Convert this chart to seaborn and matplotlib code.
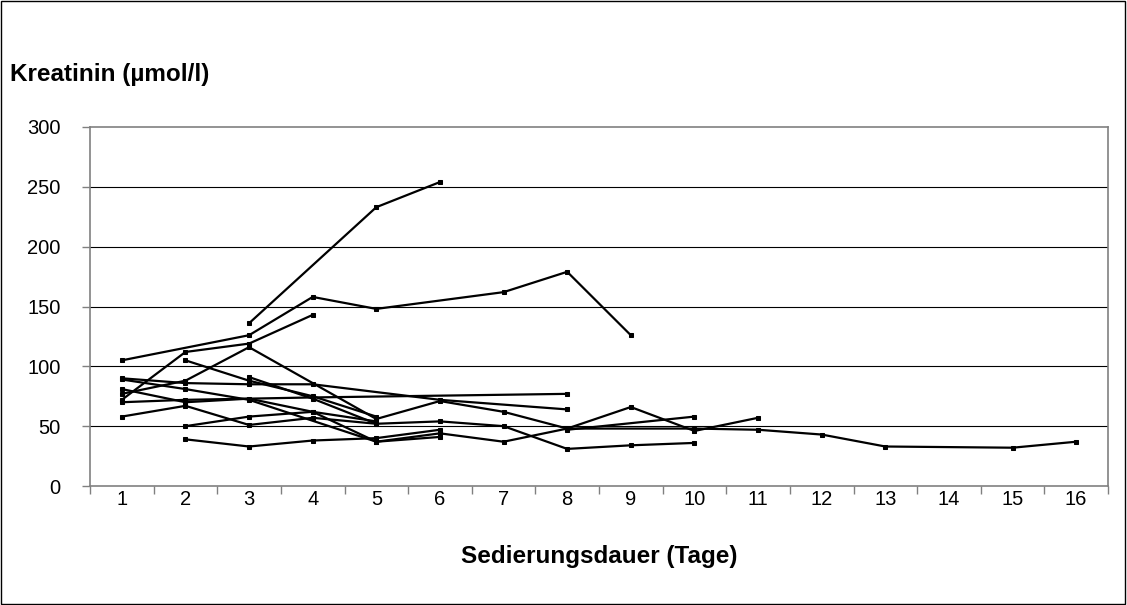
import numpy as np
import pandas as pd
import seaborn as sns
import matplotlib.pyplot as plt
from matplotlib.patches import Rectangle

# Kreatinin-Verlauf je Patient (Tag -> Wert)
p01_days = [3, 5, 6]
p01_vals = [136, 233, 254]
p02_days = [1, 3, 4, 5, 7, 8, 9]
p02_vals = [105, 126, 158, 148, 162, 179, 126]
p03_days = [1, 2, 3, 4]
p03_vals = [72, 112, 119, 143]
p04_days = [1, 2, 3, 5, 6, 7, 8, 9, 10, 11]
p04_vals = [77, 88, 116, 56, 71, 62, 48, 66, 46, 57]
p05_days = [1, 2, 4, 8]
p05_vals = [70, 72, 74, 77]
p06_days = [1, 2, 3, 4, 6, 8]
p06_vals = [90, 86, 85, 85, 72, 64]
p07_days = [1, 2, 3, 4, 5, 6, 7, 8, 10, 11, 12, 13, 15, 16]
p07_vals = [81, 70, 73, 62, 37, 44, 37, 48, 48, 47, 43, 33, 32, 37]
p08_days = [2, 3, 4, 5]
p08_vals = [105, 88, 75, 58]
p09_days = [3, 4, 5]
p09_vals = [91, 73, 52]
p10_days = [1, 2, 3, 4, 5, 6, 7, 8, 9, 10]
p10_vals = [58, 67, 51, 57, 52, 54, 50, 31, 34, 36]
p11_days = [2, 3, 4, 5, 6]
p11_vals = [39, 33, 38, 40, 47]
p12_days = [2, 3, 4, 5]
p12_vals = [50, 58, 62, 54]
p13_days = [1, 2, 3, 5, 6]
p13_vals = [89, 81, 72, 37, 41]
p14_days = [8, 10]
p14_vals = [47, 58]

x_ticks = list(range(1, 17))
y_ticks = [0, 50, 100, 150, 200, 250, 300]

patients = [
    (p01_days, p01_vals), (p02_days, p02_vals), (p03_days, p03_vals),
    (p04_days, p04_vals), (p05_days, p05_vals), (p06_days, p06_vals),
    (p07_days, p07_vals), (p08_days, p08_vals), (p09_days, p09_vals),
    (p10_days, p10_vals), (p11_days, p11_vals), (p12_days, p12_vals),
    (p13_days, p13_vals), (p14_days, p14_vals),
]
rows = []
for i, (d, v) in enumerate(patients):
    for day, val in zip(d, v):
        rows.append({'patient': i, 'tag': day, 'kreatinin': val})
df = pd.DataFrame(rows)

sns.set_style('white')
plt.rcParams['font.family'] = ['Liberation Sans', 'DejaVu Sans']
plt.rcParams['text.color'] = 'black'
plt.rcParams['xtick.color'] = 'black'
plt.rcParams['ytick.color'] = 'black'

fig = plt.figure(figsize=(11.27, 6.05), dpi=100)
ax = fig.add_axes([90 / 1127, 1 - 486 / 605, 1018 / 1127, 359 / 605])

for y in y_ticks[1:-1]:
    ax.axhline(y, color='black', lw=0.8, zorder=1)

sns.lineplot(data=df, x='tag', y='kreatinin', units='patient', estimator=None,
             color='black', lw=1.6, marker='s', markersize=3.5,
             markeredgecolor='black', ax=ax, legend=False, zorder=3)

ax.set_xlim(0.5, 16.5)
ax.set_ylim(0, 300)
ax.set_xticks(x_ticks)
ax.set_xticks(np.arange(0.5, 17, 1), minor=True)
ax.set_yticks(y_ticks)
ax.tick_params(axis='x', which='major', length=0, labelsize=14.5, pad=3, labelcolor='black')
ax.tick_params(axis='x', which='minor', length=6, width=1, color='#808080', direction='out', bottom=True)
ax.tick_params(axis='y', length=6, width=1, color='#808080', direction='out', left=True,
               labelsize=14.5, pad=15, labelcolor='black')
for s in ax.spines.values():
    s.set_color('#808080')
    s.set_linewidth(1.2)

ax.set_xlabel('')
ax.set_ylabel('')
fig.text(599 / 1127, 1 - 556 / 605, 'Sedierungsdauer (Tage)', ha='center', va='center',
         fontsize=17.5, fontweight='bold', color='black')
fig.text(10 / 1127, 1 - 75 / 605, 'Kreatinin (µmol/l)', ha='left', va='center',
         fontsize=17.5, fontweight='bold', color='black')

fig.patches.append(Rectangle((0.0005, 0.001), 0.998, 0.997, transform=fig.transFigure,
                             fill=False, edgecolor='black', lw=1))

fig.savefig('out.png', dpi=100)
